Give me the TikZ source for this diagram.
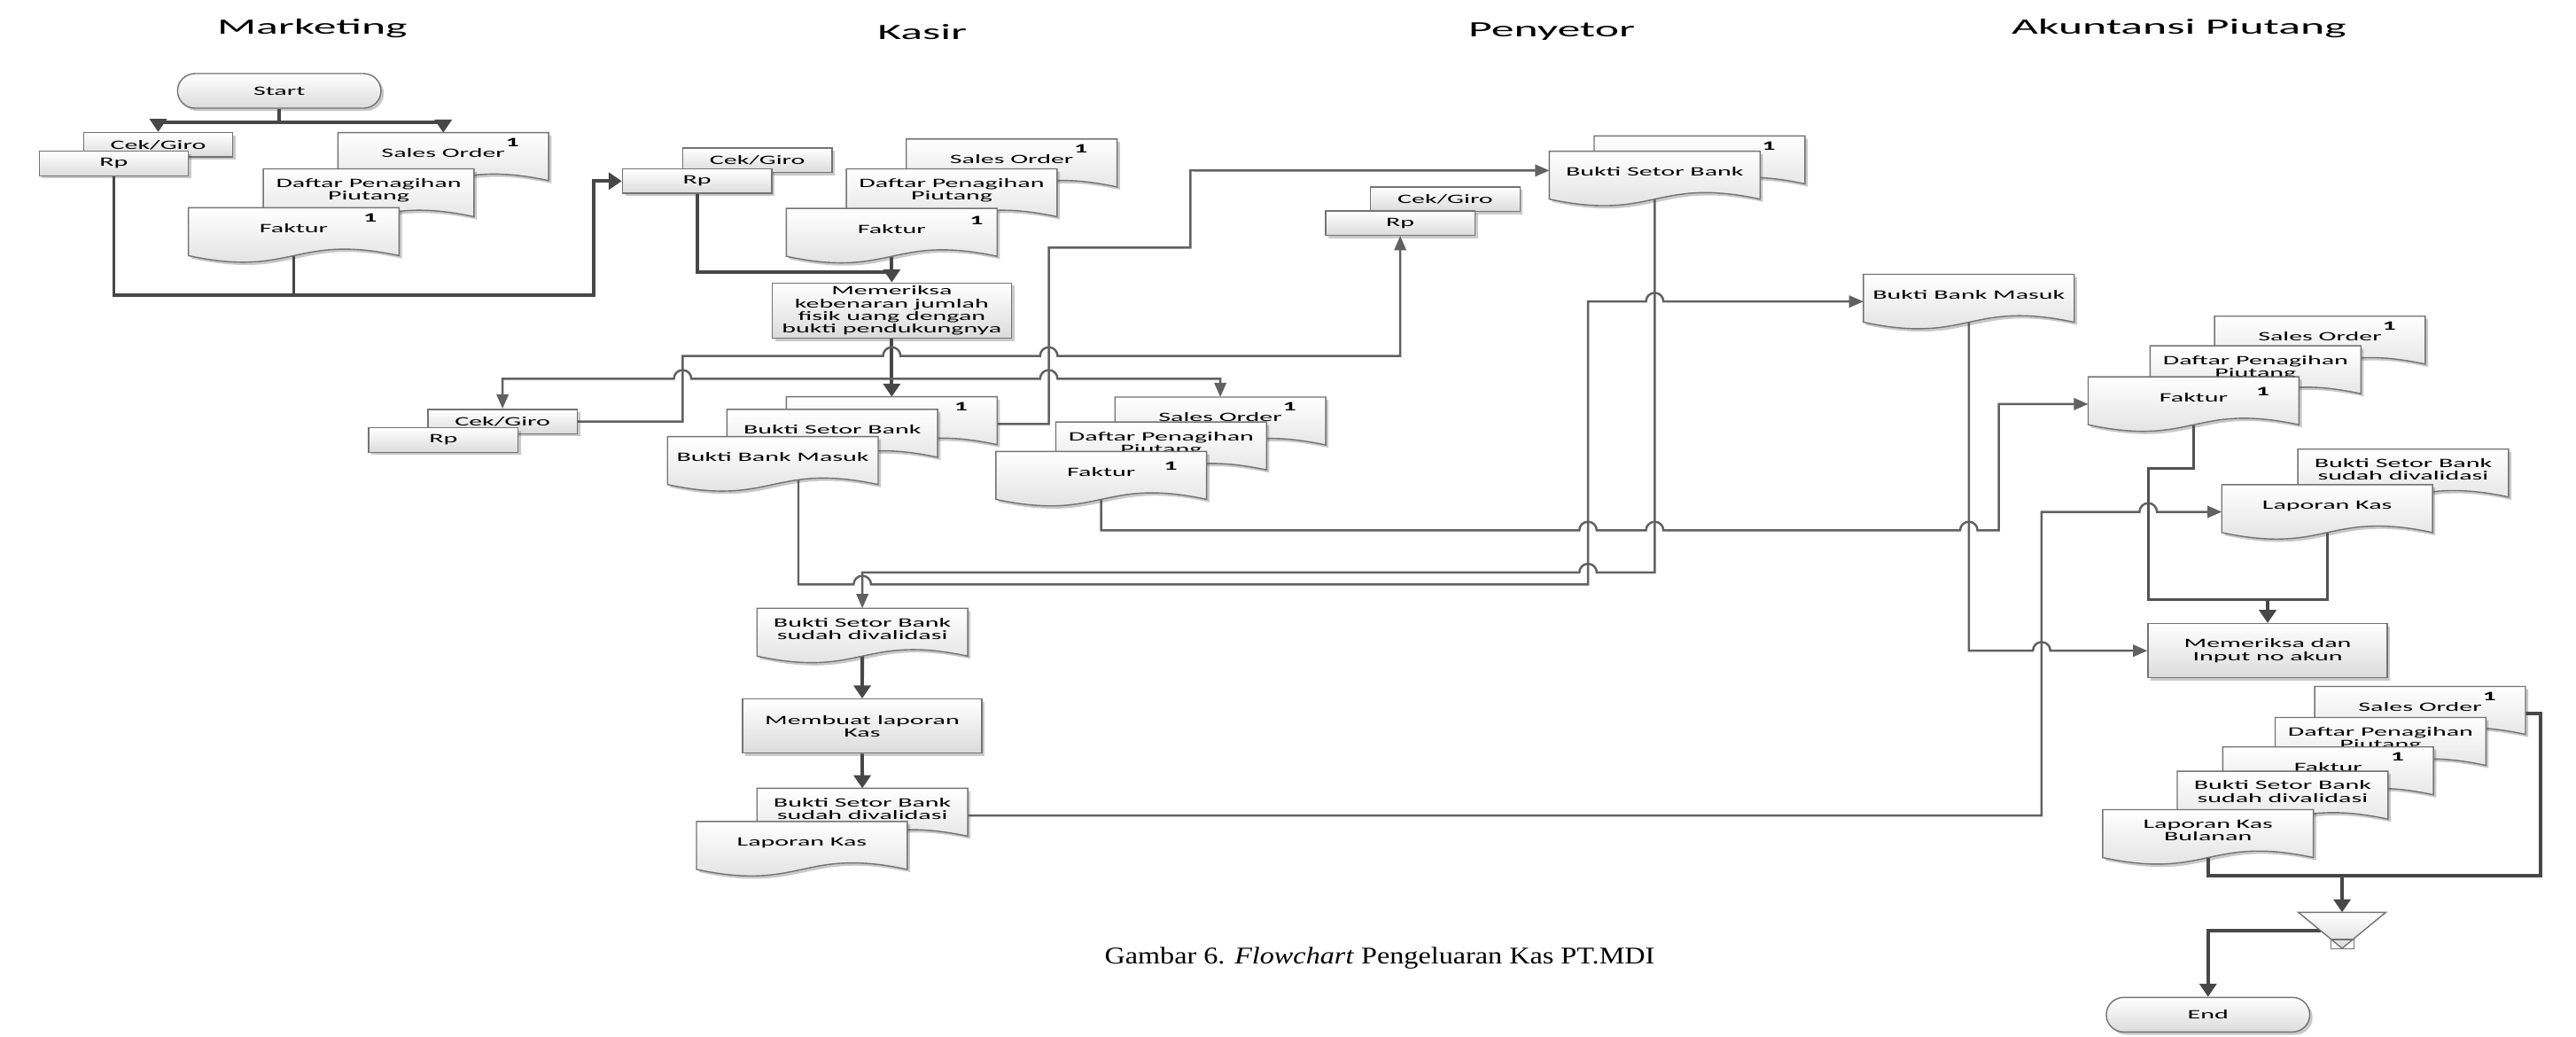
\documentclass[tikz,border=0pt]{standalone}
\usepackage{fontspec}
\setmainfont{Liberation Serif}
\newfontfamily\nodefont[FakeStretch=2.08]{Carlito}
\newfontfamily\headfont[FakeStretch=2.1]{Carlito}
\newfontfamily\capfont[FakeStretch=1.19]{Liberation Serif}
\usetikzlibrary{arrows.meta,shapes.misc,shadows,shadings}

\makeatletter
\newdimen\docxl \newdimen\docxr \newdimen\docxm
\newdimen\docyt \newdimen\docym \newdimen\docamp
\pgfdeclareshape{wavedoc}{%
  \inheritsavedanchors[from=rectangle]%
  \inheritanchorborder[from=rectangle]%
  \inheritanchor[from=rectangle]{center}%
  \inheritanchor[from=rectangle]{text}%
  \inheritanchor[from=rectangle]{base}%
  \inheritanchor[from=rectangle]{mid}%
  \inheritanchor[from=rectangle]{north}%
  \inheritanchor[from=rectangle]{north east}%
  \inheritanchor[from=rectangle]{north west}%
  \inheritanchor[from=rectangle]{east}%
  \inheritanchor[from=rectangle]{west}%
  \inheritanchor[from=rectangle]{south east}%
  \inheritanchor[from=rectangle]{south west}%
  \anchor{south}{%
    \southwest \pgf@xa=\pgf@x \pgf@ya=\pgf@y
    \northeast \pgf@yb=\pgf@y
    \pgf@x=.5\pgf@x \advance\pgf@x by .5\pgf@xa
    \pgf@y=\pgf@yb \advance\pgf@y by -\pgf@ya
    \pgf@y=.12\pgf@y \advance\pgf@y by \pgf@ya}%
  \backgroundpath{%
    \southwest \docxl=\pgf@x \docym=\pgf@y
    \northeast \docxr=\pgf@x \docyt=\pgf@y
    \docamp=\docyt \advance\docamp by -\docym \docamp=.12\docamp
    \advance\docym by \docamp
    \docamp=3.46\docamp
    \docxm=.5\docxl \advance\docxm by .5\docxr
    \pgfpathmoveto{\pgfqpoint{\docxl}{\docyt}}%
    \pgfpathlineto{\pgfqpoint{\docxr}{\docyt}}%
    \pgfpathlineto{\pgfqpoint{\docxr}{\docym}}%
    \pgfpathcurveto{\pgfpoint{\docxm}{\docym+\docamp}}{\pgfpoint{\docxm}{\docym-\docamp}}{\pgfqpoint{\docxl}{\docym}}%
    \pgfpathclose}%
}
\makeatother

\pgfdeclarelayer{bg}
\pgfsetlayers{bg,main}

\newcommand{\jumprad}{2.8pt}
\newcommand{\linejump}[2]{-- ([xshift=-\jumprad]#1,#2) arc[start angle=180,end angle=0,radius=\jumprad]}
\newcommand{\linejumpl}[2]{-- ([xshift=\jumprad]#1,#2) arc[start angle=0,end angle=180,radius=\jumprad]}

\tikzset{
  boxlook/.style={draw=black!55, line width=.4pt, top color=white, bottom color=black!14,
    drop shadow={shadow xshift=.9pt,shadow yshift=-.9pt,opacity=.3,fill=black!70},
    font=\nodefont\fontsize{4.1}{4.06}\selectfont, align=center},
  doc/.style={boxlook, shape=wavedoc, minimum width=2.364cm, minimum height=.6cm,
    inner sep=1pt, text depth=4.4pt},
  card/.style={boxlook, rectangle, minimum width=1.685cm, minimum height=.275cm, inner sep=.5pt},
  proc/.style={boxlook, rectangle, minimum width=2.7cm, minimum height=.61cm, inner sep=1pt},
  term/.style={boxlook, rounded rectangle, minimum width=2.366cm, minimum height=.39cm, inner sep=1pt},
  numlbl/.style={font=\nodefont\bfseries\fontsize{4.1}{4.1}\selectfont, inner sep=0pt, anchor=center},
  num/.style={label={[numlbl,#1]north east:1}},
  num/.default={xshift=-11.6pt,yshift=-3.2pt},
  head/.style={font=\headfont\fontsize{7}{8}\selectfont, inner sep=0pt, anchor=base},
  flow/.style={line width=1.1pt, draw=black!72, >={Triangle[length=4.2pt,width=5.4pt]}},
  midflow/.style={line width=.85pt, draw=black!68, >={Triangle[length=4.2pt,width=5.4pt]}},
  link/.style={line width=.7pt, draw=black!62, >={Triangle[length=4.6pt,width=3.8pt]}}
}

\begin{document}
\begin{tikzpicture}[x=0.01854cm,y=-0.01854cm]
\useasboundingbox (0,0) rectangle (1568,631);

\node[head] (tmkt) at (190,20.7) {Marketing};
\node[head] (tksr) at (561.4,23.9) {Kasir};
\node[head] (tpny) at (944.5,22.5) {Penyetor};
\node[head] (takp) at (1326.3,20.7) {Akuntansi Piutang};

% Marketing
\node[term] (start) at (170,55.3) {Start};
\node[card] (mcek) at (96.3,88.1) {Cek/Giro};
\node[card] (mrp) at (69.3,99.5) {Rp};
\node[doc,num] (mso) at (269.8,97.3) {Sales Order};
\node[doc] (mdp) at (224.4,119.3) {Daftar Penagihan\\Piutang};
\node[doc,num={xshift=-9.3pt,yshift=-3.1pt}] (mfk) at (178.8,143) {Faktur};

% Kasir
\node[card] (kcek) at (461,97.5) {Cek/Giro};
\node[card] (krp) at (424.3,110.2) {Rp};
\node[doc,num] (kso) at (615.8,101.2) {Sales Order};
\node[doc] (kdp) at (579.3,119.3) {Daftar Penagihan\\Piutang};
\node[doc,num={xshift=-6.6pt,yshift=-4pt}] (kfk) at (542.8,143.4) {Faktur};
\node[proc] (kcheck) at (542.8,189) {Memeriksa\\kebenaran jumlah\\fisik uang dengan\\bukti pendukungnya};
\node[card] (kcek2) at (305.9,256.5) {Cek/Giro};
\node[card] (krp2) at (269.9,267.8) {Rp};
\node[doc,num] (kbs1) at (542.8,258) {};
\node[doc] (kbs2) at (506.6,265.7) {Bukti Setor Bank};
\node[doc] (kbm) at (470.4,282.3) {Bukti Bank Masuk};
\node[doc,num] (kso2) at (742.8,258.2) {Sales Order};
\node[doc] (kdp2) at (706.8,273.4) {Daftar Penagihan\\Piutang};
\node[doc,num={xshift=-11.6pt,yshift=-4.7pt}] (kfk2) at (670.3,291.3) {Faktur};
\node[doc] (kbv) at (524.9,386.7) {Bukti Setor Bank\\sudah divalidasi};
\node[proc] (kmake) at (524.8,441.9) {Membuat laporan\\Kas};
\node[doc] (kbv2) at (524.9,496.3) {Bukti Setor Bank\\sudah divalidasi};
\node[doc] (klk) at (488.1,516.5) {Laporan Kas};

% Penyetor
\node[card] (pcek) at (879.7,121.2) {Cek/Giro};
\node[card] (prp) at (852.3,135.8) {Rp};
\node[doc,num] (pbs1) at (1034.5,99.3) {};
\node[doc] (pbs2) at (1007.2,108.6) {Bukti Setor Bank};

% Akuntansi Piutang
\node[doc] (abm) at (1198.4,183.5) {Bukti Bank Masuk};
\node[doc,num] (aso) at (1412.1,209) {Sales Order};
\node[doc] (adp) at (1372.9,227) {Daftar Penagihan\\Piutang};
\node[doc,num={xshift=-11.6pt,yshift=-4.8pt}] (afk) at (1335.2,245.9) {Faktur};
\node[doc] (abv) at (1462.8,289.9) {Bukti Setor Bank\\sudah divalidasi};
\node[doc] (alk) at (1416.5,311.5) {Laporan Kas};
\node[proc] (acheck) at (1380.3,396) {Memeriksa dan\\Input no akun};
\node[doc,num] (bso) at (1473.1,434.3) {Sales Order};
\node[doc] (bdp) at (1449,453.2) {Daftar Penagihan\\Piutang};
\node[doc,num] (bfk) at (1417.1,471.1) {Faktur};
\node[doc] (bbv) at (1389.4,485.9) {Bukti Setor Bank\\sudah divalidasi};
\node[doc] (blk) at (1344,509.3) {Laporan Kas\\Bulanan};
\node[term] (stop) at (1344,617.5) {End};

\coordinate (mtop) at (1425.6,555.2);
\coordinate (mleft) at (1412.5,566.3);
\draw[draw=black!55, line width=.4pt, top color=white, bottom color=black!14] (mtop) ++(-26.6,0) -- ++(53.2,0) -- ++(-26.6,21.9) -- cycle;
\draw[draw=black!55, line width=.4pt] (1418.8,571.7) rectangle (1433,577.5);

\node[font=\capfont\fontsize{7.7}{9}\selectfont, anchor=base] (cap) at (839.8,586.3) {Gambar 6. \textit{Flowchart} Pengeluaran Kas PT.MDI};

\coordinate (kjoin) at (542.8,165.4);
\coordinate (ksplit) at (542.8,230.5);
\coordinate (ajoin) at (1380.3,365);

\begin{pgfonlayer}{bg}
\draw[flow,->] (start.south) -- ++(0,8.1) -| (mcek.north);
\draw[flow,->] (start.south) -- ++(0,8.1) -| (mso.north);
\draw[flow,->] (mrp.south) |- (361.2,179.8) |- (krp.west);
\draw[flow] (mfk.south) -- (mfk.south |- 0,179.8);
\draw[flow] (krp.south) |- (kjoin);
\draw[flow,->] (kfk.south) -- (kcheck.north);
\draw[flow,->] (kcheck.south) -- (kbs1.north);
\draw[link,->] (ksplit) \linejumpl{415.5}{230.5} -| (kcek2.north);
\draw[link,->] (ksplit) \linejump{638.4}{230.5} -| (kso2.north);
\draw[link,->] (kcek2.east) -| (415.5,216.6) \linejump{542.8}{216.6} \linejump{638.4}{216.6} -| (prp.south);
\draw[link,->] (kbs1.east) -| (638.4,150.7) -| (724.6,103.7) -- ([yshift=.09cm]pbs2.west);
\draw[link,->] ([xshift=.289cm]kbm.center) -- ++(0,73.4) \linejump{524.9}{355.7} -| (966.6,183.5) \linejump{1007.2}{183.5} -- (abm.west);
\draw[link,->] (pbs2.south) -- (1007.2,348.4) \linejumpl{966.6}{348.4} -| (kbv.north);
\draw[link,->] (kfk2.south) -- (kfk2.south |- 0,322.8) \linejump{966.6}{322.8} \linejump{1007.2}{322.8} \linejump{1198.4}{322.8} -- (1216.6,322.8) |- (afk.west);
\draw[flow,->] (kbv.south) -- (kmake.north);
\draw[flow,->] (kmake.south) -- (kbv2.north);
\draw[link,->] (kbv2.east) -| (1242.7,311.5) \linejump{1307.6}{311.5} -- (alk.west);
\draw[link,->] (abm.south) -- (1198.4,396) \linejump{1242.7}{396} -- (acheck.west);
\draw[midflow] (afk.south) |- (1307.6,285) |- (ajoin);
\draw[midflow] (alk.south) |- (ajoin);
\draw[flow,->] (ajoin) -- (acheck.north);
\draw[flow] (bso.east) -| (1546.4,533.1) -| (blk.south);
\draw[flow,->] (mtop |- 0,533.1) -- (mtop);
\draw[flow,->] (mleft) -| (stop.north);
\end{pgfonlayer}
\end{tikzpicture}
\end{document}
